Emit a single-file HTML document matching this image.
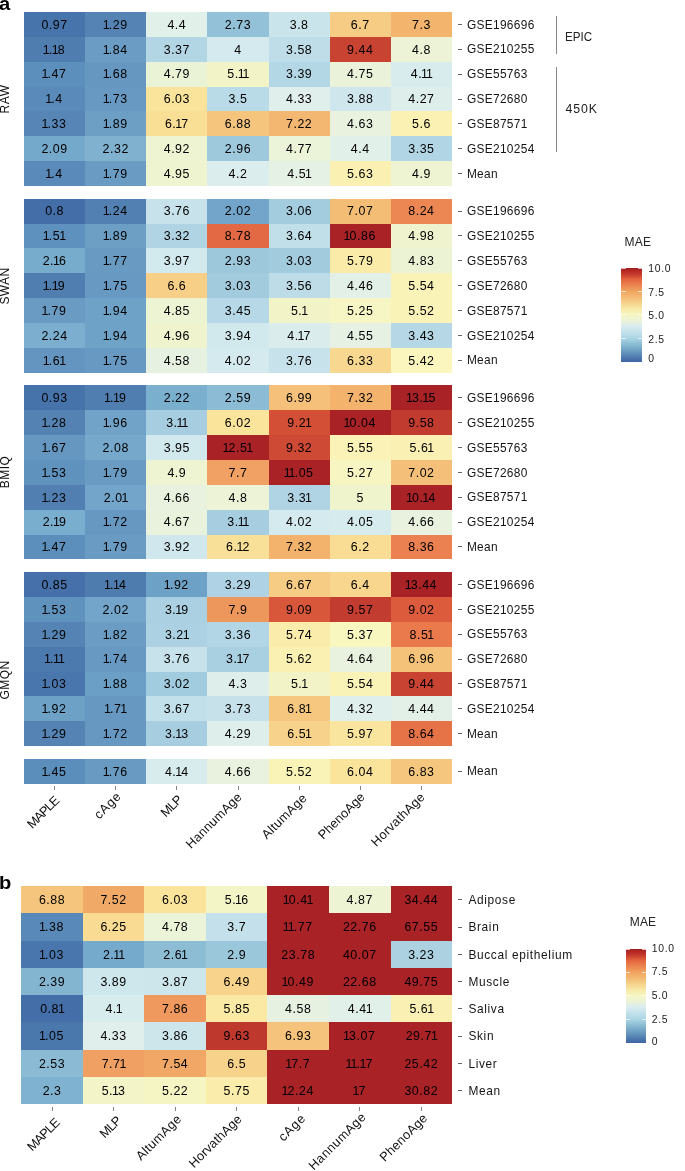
<!DOCTYPE html>
<html><head><meta charset="utf-8"><title>MAE heatmaps</title>
<style>
html,body{margin:0;padding:0;background:#fff;}
#w{position:absolute;left:0;top:0;width:685px;height:1171px;will-change:transform;opacity:0.999;}
body{width:685px;height:1171px;position:relative;overflow:hidden;font-family:"Liberation Sans",sans-serif;color:#1a1a1a;}
.c{position:absolute;}
.ct i{font-style:normal;margin-left:-1.1px;margin-right:-1.4px;}
.ct{position:absolute;font-size:12.4px;line-height:14px;letter-spacing:0.55px;text-align:center;color:#000;white-space:nowrap;}
.tk{position:absolute;width:4px;height:1px;background:#666;}
.vt{position:absolute;width:1px;height:4px;background:#858585;}
.yl{position:absolute;line-height:14px;font-size:11.9px;letter-spacing:0.32px;white-space:nowrap;color:#151515;}
.gl{position:absolute;width:100px;height:14px;line-height:14px;font-size:12px;letter-spacing:0.4px;text-align:center;transform:rotate(-90deg);white-space:nowrap;color:#111;}
.xl{position:absolute;font-size:12.8px;line-height:13px;letter-spacing:0.3px;white-space:nowrap;transform-origin:100% 0;transform:rotate(-45deg);color:#111;}
.yb{letter-spacing:0.66px;}
.br{position:absolute;width:1px;background:#888;}
.gt{position:absolute;font-size:12.3px;line-height:16px;white-space:nowrap;color:#222;}
.lt{position:absolute;font-size:12px;line-height:16px;letter-spacing:0.2px;color:#222;}
.cb{position:absolute;}
.wt{position:absolute;height:1px;background:rgba(255,255,255,0.7);}
.ll{position:absolute;font-size:10.4px;line-height:16px;letter-spacing:0.7px;color:#222;white-space:nowrap;}
.pl{position:absolute;font-weight:bold;font-size:18px;line-height:20px;color:#000;transform-origin:0 0;transform:scaleX(1.12);}
</style></head><body>
<div id="w">
<div class="pl" style="left:-1px;top:-6px">a</div>
<div class="pl" style="left:-1.5px;top:873px">b</div>
<div class="c" style="left:24px;top:12px;width:61.163px;height:24.877px;background:#4775ab"></div>
<div class="c" style="left:85.143px;top:12px;width:61.163px;height:24.877px;background:#5483b4"></div>
<div class="c" style="left:146.286px;top:12px;width:61.163px;height:24.877px;background:#e2f0ea"></div>
<div class="c" style="left:207.429px;top:12px;width:61.163px;height:24.877px;background:#93c1d8"></div>
<div class="c" style="left:268.571px;top:12px;width:61.163px;height:24.877px;background:#c9e4eb"></div>
<div class="c" style="left:329.714px;top:12px;width:61.163px;height:24.877px;background:#f6cb83"></div>
<div class="c" style="left:390.857px;top:12px;width:61.163px;height:24.877px;background:#f3b46e"></div>
<div class="c" style="left:24px;top:36.857px;width:61.163px;height:24.877px;background:#4f7db0"></div>
<div class="c" style="left:85.143px;top:36.857px;width:61.163px;height:24.877px;background:#6b9dc4"></div>
<div class="c" style="left:146.286px;top:36.857px;width:61.163px;height:24.877px;background:#b3d6e5"></div>
<div class="c" style="left:207.429px;top:36.857px;width:61.163px;height:24.877px;background:#d4eaee"></div>
<div class="c" style="left:268.571px;top:36.857px;width:61.163px;height:24.877px;background:#bedde8"></div>
<div class="c" style="left:329.714px;top:36.857px;width:61.163px;height:24.877px;background:#c94332"></div>
<div class="c" style="left:390.857px;top:36.857px;width:61.163px;height:24.877px;background:#ecf3d7"></div>
<div class="c" style="left:24px;top:61.714px;width:61.163px;height:24.877px;background:#5d8fbd"></div>
<div class="c" style="left:85.143px;top:61.714px;width:61.163px;height:24.877px;background:#6597c1"></div>
<div class="c" style="left:146.286px;top:61.714px;width:61.163px;height:24.877px;background:#ebf3d7"></div>
<div class="c" style="left:207.429px;top:61.714px;width:61.163px;height:24.877px;background:#f2f4c8"></div>
<div class="c" style="left:268.571px;top:61.714px;width:61.163px;height:24.877px;background:#b4d7e6"></div>
<div class="c" style="left:329.714px;top:61.714px;width:61.163px;height:24.877px;background:#eaf3d9"></div>
<div class="c" style="left:390.857px;top:61.714px;width:61.163px;height:24.877px;background:#d8eced"></div>
<div class="c" style="left:24px;top:86.571px;width:61.163px;height:24.877px;background:#5a8ab9"></div>
<div class="c" style="left:85.143px;top:86.571px;width:61.163px;height:24.877px;background:#6799c2"></div>
<div class="c" style="left:146.286px;top:86.571px;width:61.163px;height:24.877px;background:#fae39b"></div>
<div class="c" style="left:207.429px;top:86.571px;width:61.163px;height:24.877px;background:#b9dae7"></div>
<div class="c" style="left:268.571px;top:86.571px;width:61.163px;height:24.877px;background:#e0efeb"></div>
<div class="c" style="left:329.714px;top:86.571px;width:61.163px;height:24.877px;background:#cee6ec"></div>
<div class="c" style="left:390.857px;top:86.571px;width:61.163px;height:24.877px;background:#ddeeeb"></div>
<div class="c" style="left:24px;top:111.429px;width:61.163px;height:24.877px;background:#5685b6"></div>
<div class="c" style="left:85.143px;top:111.429px;width:61.163px;height:24.877px;background:#6d9fc5"></div>
<div class="c" style="left:146.286px;top:111.429px;width:61.163px;height:24.877px;background:#f9de96"></div>
<div class="c" style="left:207.429px;top:111.429px;width:61.163px;height:24.877px;background:#f5c57d"></div>
<div class="c" style="left:268.571px;top:111.429px;width:61.163px;height:24.877px;background:#f3b771"></div>
<div class="c" style="left:329.714px;top:111.429px;width:61.163px;height:24.877px;background:#e8f2df"></div>
<div class="c" style="left:390.857px;top:111.429px;width:61.163px;height:24.877px;background:#faf1b3"></div>
<div class="c" style="left:24px;top:136.286px;width:61.163px;height:24.877px;background:#75a9cb"></div>
<div class="c" style="left:85.143px;top:136.286px;width:61.163px;height:24.877px;background:#80b2d0"></div>
<div class="c" style="left:146.286px;top:136.286px;width:61.163px;height:24.877px;background:#eef4d1"></div>
<div class="c" style="left:207.429px;top:136.286px;width:61.163px;height:24.877px;background:#9ec9dd"></div>
<div class="c" style="left:268.571px;top:136.286px;width:61.163px;height:24.877px;background:#ebf3d8"></div>
<div class="c" style="left:329.714px;top:136.286px;width:61.163px;height:24.877px;background:#e2f0ea"></div>
<div class="c" style="left:390.857px;top:136.286px;width:61.163px;height:24.877px;background:#b2d5e5"></div>
<div class="c" style="left:24px;top:161.143px;width:61.163px;height:24.877px;background:#5a8ab9"></div>
<div class="c" style="left:85.143px;top:161.143px;width:61.163px;height:24.877px;background:#699bc3"></div>
<div class="c" style="left:146.286px;top:161.143px;width:61.163px;height:24.877px;background:#eff4d0"></div>
<div class="c" style="left:207.429px;top:161.143px;width:61.163px;height:24.877px;background:#dbedec"></div>
<div class="c" style="left:268.571px;top:161.143px;width:61.163px;height:24.877px;background:#e5f1e5"></div>
<div class="c" style="left:329.714px;top:161.143px;width:61.163px;height:24.877px;background:#faf0b2"></div>
<div class="c" style="left:390.857px;top:161.143px;width:61.163px;height:24.877px;background:#eef4d2"></div>
<div class="ct" style="left:24px;top:18px;width:61.143px">0.97</div>
<div class="ct" style="left:85.143px;top:18px;width:61.143px"><i>1</i>.29</div>
<div class="ct" style="left:146.286px;top:18px;width:61.143px">4.4</div>
<div class="ct" style="left:207.429px;top:18px;width:61.143px">2.73</div>
<div class="ct" style="left:268.571px;top:18px;width:61.143px">3.8</div>
<div class="ct" style="left:329.714px;top:18px;width:61.143px">6.7</div>
<div class="ct" style="left:390.857px;top:18px;width:61.143px">7.3</div>
<div class="ct" style="left:24px;top:43px;width:61.143px"><i>1</i>.<i>1</i>8</div>
<div class="ct" style="left:85.143px;top:43px;width:61.143px"><i>1</i>.84</div>
<div class="ct" style="left:146.286px;top:43px;width:61.143px">3.37</div>
<div class="ct" style="left:207.429px;top:43px;width:61.143px">4</div>
<div class="ct" style="left:268.571px;top:43px;width:61.143px">3.58</div>
<div class="ct" style="left:329.714px;top:43px;width:61.143px">9.44</div>
<div class="ct" style="left:390.857px;top:43px;width:61.143px">4.8</div>
<div class="ct" style="left:24px;top:67px;width:61.143px"><i>1</i>.47</div>
<div class="ct" style="left:85.143px;top:67px;width:61.143px"><i>1</i>.68</div>
<div class="ct" style="left:146.286px;top:67px;width:61.143px">4.79</div>
<div class="ct" style="left:207.429px;top:67px;width:61.143px">5.<i>1</i><i>1</i></div>
<div class="ct" style="left:268.571px;top:67px;width:61.143px">3.39</div>
<div class="ct" style="left:329.714px;top:67px;width:61.143px">4.75</div>
<div class="ct" style="left:390.857px;top:67px;width:61.143px">4.<i>1</i><i>1</i></div>
<div class="ct" style="left:24px;top:92px;width:61.143px"><i>1</i>.4</div>
<div class="ct" style="left:85.143px;top:92px;width:61.143px"><i>1</i>.73</div>
<div class="ct" style="left:146.286px;top:92px;width:61.143px">6.03</div>
<div class="ct" style="left:207.429px;top:92px;width:61.143px">3.5</div>
<div class="ct" style="left:268.571px;top:92px;width:61.143px">4.33</div>
<div class="ct" style="left:329.714px;top:92px;width:61.143px">3.88</div>
<div class="ct" style="left:390.857px;top:92px;width:61.143px">4.27</div>
<div class="ct" style="left:24px;top:117px;width:61.143px"><i>1</i>.33</div>
<div class="ct" style="left:85.143px;top:117px;width:61.143px"><i>1</i>.89</div>
<div class="ct" style="left:146.286px;top:117px;width:61.143px">6.<i>1</i>7</div>
<div class="ct" style="left:207.429px;top:117px;width:61.143px">6.88</div>
<div class="ct" style="left:268.571px;top:117px;width:61.143px">7.22</div>
<div class="ct" style="left:329.714px;top:117px;width:61.143px">4.63</div>
<div class="ct" style="left:390.857px;top:117px;width:61.143px">5.6</div>
<div class="ct" style="left:24px;top:142px;width:61.143px">2.09</div>
<div class="ct" style="left:85.143px;top:142px;width:61.143px">2.32</div>
<div class="ct" style="left:146.286px;top:142px;width:61.143px">4.92</div>
<div class="ct" style="left:207.429px;top:142px;width:61.143px">2.96</div>
<div class="ct" style="left:268.571px;top:142px;width:61.143px">4.77</div>
<div class="ct" style="left:329.714px;top:142px;width:61.143px">4.4</div>
<div class="ct" style="left:390.857px;top:142px;width:61.143px">3.35</div>
<div class="ct" style="left:24px;top:167px;width:61.143px"><i>1</i>.4</div>
<div class="ct" style="left:85.143px;top:167px;width:61.143px"><i>1</i>.79</div>
<div class="ct" style="left:146.286px;top:167px;width:61.143px">4.95</div>
<div class="ct" style="left:207.429px;top:167px;width:61.143px">4.2</div>
<div class="ct" style="left:268.571px;top:167px;width:61.143px">4.5<i>1</i></div>
<div class="ct" style="left:329.714px;top:167px;width:61.143px">5.63</div>
<div class="ct" style="left:390.857px;top:167px;width:61.143px">4.9</div>
<div class="tk" style="left:458.2px;top:23.929px"></div>
<div class="yl" style="left:466.9px;top:18px">GSE196696</div>
<div class="tk" style="left:458.2px;top:48.786px"></div>
<div class="yl" style="left:466.9px;top:42px">GSE210255</div>
<div class="tk" style="left:458.2px;top:73.643px"></div>
<div class="yl" style="left:466.9px;top:67px">GSE55763</div>
<div class="tk" style="left:458.2px;top:98.5px"></div>
<div class="yl" style="left:466.9px;top:92px">GSE72680</div>
<div class="tk" style="left:458.2px;top:123.357px"></div>
<div class="yl" style="left:466.9px;top:117px">GSE87571</div>
<div class="tk" style="left:458.2px;top:148.214px"></div>
<div class="yl" style="left:466.9px;top:142px">GSE210254</div>
<div class="tk" style="left:458.2px;top:173.071px"></div>
<div class="yl" style="left:466.9px;top:167px">Mean</div>
<div class="gl" style="left:-45.4px;top:92px">RAW</div>
<div class="c" style="left:24px;top:198.7px;width:61.163px;height:24.877px;background:#446ea8"></div>
<div class="c" style="left:85.143px;top:198.7px;width:61.163px;height:24.877px;background:#5280b2"></div>
<div class="c" style="left:146.286px;top:198.7px;width:61.163px;height:24.877px;background:#c7e2eb"></div>
<div class="c" style="left:207.429px;top:198.7px;width:61.163px;height:24.877px;background:#72a5c9"></div>
<div class="c" style="left:268.571px;top:198.7px;width:61.163px;height:24.877px;background:#a3ccdf"></div>
<div class="c" style="left:329.714px;top:198.7px;width:61.163px;height:24.877px;background:#f4bd76"></div>
<div class="c" style="left:390.857px;top:198.7px;width:61.163px;height:24.877px;background:#ec8753"></div>
<div class="c" style="left:24px;top:223.557px;width:61.163px;height:24.877px;background:#5f91be"></div>
<div class="c" style="left:85.143px;top:223.557px;width:61.163px;height:24.877px;background:#6d9fc5"></div>
<div class="c" style="left:146.286px;top:223.557px;width:61.163px;height:24.877px;background:#b0d4e4"></div>
<div class="c" style="left:207.429px;top:223.557px;width:61.163px;height:24.877px;background:#e26943"></div>
<div class="c" style="left:268.571px;top:223.557px;width:61.163px;height:24.877px;background:#c1dfe9"></div>
<div class="c" style="left:329.714px;top:223.557px;width:61.163px;height:24.877px;background:#a82226"></div>
<div class="c" style="left:390.857px;top:223.557px;width:61.163px;height:24.877px;background:#f0f4ce"></div>
<div class="c" style="left:24px;top:248.414px;width:61.163px;height:24.877px;background:#78accd"></div>
<div class="c" style="left:85.143px;top:248.414px;width:61.163px;height:24.877px;background:#689ac2"></div>
<div class="c" style="left:146.286px;top:248.414px;width:61.163px;height:24.877px;background:#d2e9ee"></div>
<div class="c" style="left:207.429px;top:248.414px;width:61.163px;height:24.877px;background:#9dc8dc"></div>
<div class="c" style="left:268.571px;top:248.414px;width:61.163px;height:24.877px;background:#a2cbde"></div>
<div class="c" style="left:329.714px;top:248.414px;width:61.163px;height:24.877px;background:#faeba8"></div>
<div class="c" style="left:390.857px;top:248.414px;width:61.163px;height:24.877px;background:#ecf3d5"></div>
<div class="c" style="left:24px;top:273.271px;width:61.163px;height:24.877px;background:#507eb1"></div>
<div class="c" style="left:85.143px;top:273.271px;width:61.163px;height:24.877px;background:#6799c2"></div>
<div class="c" style="left:146.286px;top:273.271px;width:61.163px;height:24.877px;background:#f7cf87"></div>
<div class="c" style="left:207.429px;top:273.271px;width:61.163px;height:24.877px;background:#a2cbde"></div>
<div class="c" style="left:268.571px;top:273.271px;width:61.163px;height:24.877px;background:#bddce8"></div>
<div class="c" style="left:329.714px;top:273.271px;width:61.163px;height:24.877px;background:#e3f0e7"></div>
<div class="c" style="left:390.857px;top:273.271px;width:61.163px;height:24.877px;background:#faf3b7"></div>
<div class="c" style="left:24px;top:298.129px;width:61.163px;height:24.877px;background:#699bc3"></div>
<div class="c" style="left:85.143px;top:298.129px;width:61.163px;height:24.877px;background:#6fa2c7"></div>
<div class="c" style="left:146.286px;top:298.129px;width:61.163px;height:24.877px;background:#edf4d4"></div>
<div class="c" style="left:207.429px;top:298.129px;width:61.163px;height:24.877px;background:#b7d9e7"></div>
<div class="c" style="left:268.571px;top:298.129px;width:61.163px;height:24.877px;background:#f2f4c8"></div>
<div class="c" style="left:329.714px;top:298.129px;width:61.163px;height:24.877px;background:#f6f6c4"></div>
<div class="c" style="left:390.857px;top:298.129px;width:61.163px;height:24.877px;background:#faf3b8"></div>
<div class="c" style="left:24px;top:322.986px;width:61.163px;height:24.877px;background:#7cafcf"></div>
<div class="c" style="left:85.143px;top:322.986px;width:61.163px;height:24.877px;background:#6fa2c7"></div>
<div class="c" style="left:146.286px;top:322.986px;width:61.163px;height:24.877px;background:#eff4cf"></div>
<div class="c" style="left:207.429px;top:322.986px;width:61.163px;height:24.877px;background:#d1e8ed"></div>
<div class="c" style="left:268.571px;top:322.986px;width:61.163px;height:24.877px;background:#daedec"></div>
<div class="c" style="left:329.714px;top:322.986px;width:61.163px;height:24.877px;background:#e6f1e3"></div>
<div class="c" style="left:390.857px;top:322.986px;width:61.163px;height:24.877px;background:#b6d8e6"></div>
<div class="c" style="left:24px;top:347.843px;width:61.163px;height:24.877px;background:#6395c0"></div>
<div class="c" style="left:85.143px;top:347.843px;width:61.163px;height:24.877px;background:#6799c2"></div>
<div class="c" style="left:146.286px;top:347.843px;width:61.163px;height:24.877px;background:#e6f1e1"></div>
<div class="c" style="left:207.429px;top:347.843px;width:61.163px;height:24.877px;background:#d5eaee"></div>
<div class="c" style="left:268.571px;top:347.843px;width:61.163px;height:24.877px;background:#c7e2eb"></div>
<div class="c" style="left:329.714px;top:347.843px;width:61.163px;height:24.877px;background:#f8d890"></div>
<div class="c" style="left:390.857px;top:347.843px;width:61.163px;height:24.877px;background:#faf6be"></div>
<div class="ct" style="left:24px;top:204px;width:61.143px">0.8</div>
<div class="ct" style="left:85.143px;top:204px;width:61.143px"><i>1</i>.24</div>
<div class="ct" style="left:146.286px;top:204px;width:61.143px">3.76</div>
<div class="ct" style="left:207.429px;top:204px;width:61.143px">2.02</div>
<div class="ct" style="left:268.571px;top:204px;width:61.143px">3.06</div>
<div class="ct" style="left:329.714px;top:204px;width:61.143px">7.07</div>
<div class="ct" style="left:390.857px;top:204px;width:61.143px">8.24</div>
<div class="ct" style="left:24px;top:229px;width:61.143px"><i>1</i>.5<i>1</i></div>
<div class="ct" style="left:85.143px;top:229px;width:61.143px"><i>1</i>.89</div>
<div class="ct" style="left:146.286px;top:229px;width:61.143px">3.32</div>
<div class="ct" style="left:207.429px;top:229px;width:61.143px">8.78</div>
<div class="ct" style="left:268.571px;top:229px;width:61.143px">3.64</div>
<div class="ct" style="left:329.714px;top:229px;width:61.143px"><i>1</i>0.86</div>
<div class="ct" style="left:390.857px;top:229px;width:61.143px">4.98</div>
<div class="ct" style="left:24px;top:254px;width:61.143px">2.<i>1</i>6</div>
<div class="ct" style="left:85.143px;top:254px;width:61.143px"><i>1</i>.77</div>
<div class="ct" style="left:146.286px;top:254px;width:61.143px">3.97</div>
<div class="ct" style="left:207.429px;top:254px;width:61.143px">2.93</div>
<div class="ct" style="left:268.571px;top:254px;width:61.143px">3.03</div>
<div class="ct" style="left:329.714px;top:254px;width:61.143px">5.79</div>
<div class="ct" style="left:390.857px;top:254px;width:61.143px">4.83</div>
<div class="ct" style="left:24px;top:279px;width:61.143px"><i>1</i>.<i>1</i>9</div>
<div class="ct" style="left:85.143px;top:279px;width:61.143px"><i>1</i>.75</div>
<div class="ct" style="left:146.286px;top:279px;width:61.143px">6.6</div>
<div class="ct" style="left:207.429px;top:279px;width:61.143px">3.03</div>
<div class="ct" style="left:268.571px;top:279px;width:61.143px">3.56</div>
<div class="ct" style="left:329.714px;top:279px;width:61.143px">4.46</div>
<div class="ct" style="left:390.857px;top:279px;width:61.143px">5.54</div>
<div class="ct" style="left:24px;top:304px;width:61.143px"><i>1</i>.79</div>
<div class="ct" style="left:85.143px;top:304px;width:61.143px"><i>1</i>.94</div>
<div class="ct" style="left:146.286px;top:304px;width:61.143px">4.85</div>
<div class="ct" style="left:207.429px;top:304px;width:61.143px">3.45</div>
<div class="ct" style="left:268.571px;top:304px;width:61.143px">5.<i>1</i></div>
<div class="ct" style="left:329.714px;top:304px;width:61.143px">5.25</div>
<div class="ct" style="left:390.857px;top:304px;width:61.143px">5.52</div>
<div class="ct" style="left:24px;top:329px;width:61.143px">2.24</div>
<div class="ct" style="left:85.143px;top:329px;width:61.143px"><i>1</i>.94</div>
<div class="ct" style="left:146.286px;top:329px;width:61.143px">4.96</div>
<div class="ct" style="left:207.429px;top:329px;width:61.143px">3.94</div>
<div class="ct" style="left:268.571px;top:329px;width:61.143px">4.<i>1</i>7</div>
<div class="ct" style="left:329.714px;top:329px;width:61.143px">4.55</div>
<div class="ct" style="left:390.857px;top:329px;width:61.143px">3.43</div>
<div class="ct" style="left:24px;top:354px;width:61.143px"><i>1</i>.6<i>1</i></div>
<div class="ct" style="left:85.143px;top:354px;width:61.143px"><i>1</i>.75</div>
<div class="ct" style="left:146.286px;top:354px;width:61.143px">4.58</div>
<div class="ct" style="left:207.429px;top:354px;width:61.143px">4.02</div>
<div class="ct" style="left:268.571px;top:354px;width:61.143px">3.76</div>
<div class="ct" style="left:329.714px;top:354px;width:61.143px">6.33</div>
<div class="ct" style="left:390.857px;top:354px;width:61.143px">5.42</div>
<div class="tk" style="left:458.2px;top:210.629px"></div>
<div class="yl" style="left:466.9px;top:204px">GSE196696</div>
<div class="tk" style="left:458.2px;top:235.486px"></div>
<div class="yl" style="left:466.9px;top:229px">GSE210255</div>
<div class="tk" style="left:458.2px;top:260.343px"></div>
<div class="yl" style="left:466.9px;top:254px">GSE55763</div>
<div class="tk" style="left:458.2px;top:285.2px"></div>
<div class="yl" style="left:466.9px;top:279px">GSE72680</div>
<div class="tk" style="left:458.2px;top:310.057px"></div>
<div class="yl" style="left:466.9px;top:304px">GSE87571</div>
<div class="tk" style="left:458.2px;top:334.914px"></div>
<div class="yl" style="left:466.9px;top:329px">GSE210254</div>
<div class="tk" style="left:458.2px;top:359.771px"></div>
<div class="yl" style="left:466.9px;top:353px">Mean</div>
<div class="gl" style="left:-45.4px;top:278.7px">SWAN</div>
<div class="c" style="left:24px;top:385.4px;width:61.163px;height:24.877px;background:#4773ab"></div>
<div class="c" style="left:85.143px;top:385.4px;width:61.163px;height:24.877px;background:#507eb1"></div>
<div class="c" style="left:146.286px;top:385.4px;width:61.163px;height:24.877px;background:#7bafce"></div>
<div class="c" style="left:207.429px;top:385.4px;width:61.163px;height:24.877px;background:#8cbcd5"></div>
<div class="c" style="left:268.571px;top:385.4px;width:61.163px;height:24.877px;background:#f5c079"></div>
<div class="c" style="left:329.714px;top:385.4px;width:61.163px;height:24.877px;background:#f3b36d"></div>
<div class="c" style="left:390.857px;top:385.4px;width:61.163px;height:24.877px;background:#a82226"></div>
<div class="c" style="left:24px;top:410.257px;width:61.163px;height:24.877px;background:#5482b3"></div>
<div class="c" style="left:85.143px;top:410.257px;width:61.163px;height:24.877px;background:#70a3c7"></div>
<div class="c" style="left:146.286px;top:410.257px;width:61.163px;height:24.877px;background:#a6cee0"></div>
<div class="c" style="left:207.429px;top:410.257px;width:61.163px;height:24.877px;background:#fae39b"></div>
<div class="c" style="left:268.571px;top:410.257px;width:61.163px;height:24.877px;background:#d35037"></div>
<div class="c" style="left:329.714px;top:410.257px;width:61.163px;height:24.877px;background:#a82226"></div>
<div class="c" style="left:390.857px;top:410.257px;width:61.163px;height:24.877px;background:#c13b2f"></div>
<div class="c" style="left:24px;top:435.114px;width:61.163px;height:24.877px;background:#6597c1"></div>
<div class="c" style="left:85.143px;top:435.114px;width:61.163px;height:24.877px;background:#75a8cb"></div>
<div class="c" style="left:146.286px;top:435.114px;width:61.163px;height:24.877px;background:#d1e8ed"></div>
<div class="c" style="left:207.429px;top:435.114px;width:61.163px;height:24.877px;background:#a82226"></div>
<div class="c" style="left:268.571px;top:435.114px;width:61.163px;height:24.877px;background:#ce4a35"></div>
<div class="c" style="left:329.714px;top:435.114px;width:61.163px;height:24.877px;background:#faf2b6"></div>
<div class="c" style="left:390.857px;top:435.114px;width:61.163px;height:24.877px;background:#faf0b3"></div>
<div class="c" style="left:24px;top:459.971px;width:61.163px;height:24.877px;background:#6092be"></div>
<div class="c" style="left:85.143px;top:459.971px;width:61.163px;height:24.877px;background:#699bc3"></div>
<div class="c" style="left:146.286px;top:459.971px;width:61.163px;height:24.877px;background:#eef4d2"></div>
<div class="c" style="left:207.429px;top:459.971px;width:61.163px;height:24.877px;background:#f0a163"></div>
<div class="c" style="left:268.571px;top:459.971px;width:61.163px;height:24.877px;background:#a82226"></div>
<div class="c" style="left:329.714px;top:459.971px;width:61.163px;height:24.877px;background:#f7f6c3"></div>
<div class="c" style="left:390.857px;top:459.971px;width:61.163px;height:24.877px;background:#f4bf78"></div>
<div class="c" style="left:24px;top:484.829px;width:61.163px;height:24.877px;background:#517fb2"></div>
<div class="c" style="left:85.143px;top:484.829px;width:61.163px;height:24.877px;background:#72a5c9"></div>
<div class="c" style="left:146.286px;top:484.829px;width:61.163px;height:24.877px;background:#e8f2de"></div>
<div class="c" style="left:207.429px;top:484.829px;width:61.163px;height:24.877px;background:#ecf3d7"></div>
<div class="c" style="left:268.571px;top:484.829px;width:61.163px;height:24.877px;background:#b0d4e4"></div>
<div class="c" style="left:329.714px;top:484.829px;width:61.163px;height:24.877px;background:#f0f4cd"></div>
<div class="c" style="left:390.857px;top:484.829px;width:61.163px;height:24.877px;background:#a82226"></div>
<div class="c" style="left:24px;top:509.686px;width:61.163px;height:24.877px;background:#7aaece"></div>
<div class="c" style="left:85.143px;top:509.686px;width:61.163px;height:24.877px;background:#6698c2"></div>
<div class="c" style="left:146.286px;top:509.686px;width:61.163px;height:24.877px;background:#e8f2dd"></div>
<div class="c" style="left:207.429px;top:509.686px;width:61.163px;height:24.877px;background:#a6cee0"></div>
<div class="c" style="left:268.571px;top:509.686px;width:61.163px;height:24.877px;background:#d5eaee"></div>
<div class="c" style="left:329.714px;top:509.686px;width:61.163px;height:24.877px;background:#d6ebee"></div>
<div class="c" style="left:390.857px;top:509.686px;width:61.163px;height:24.877px;background:#e8f2de"></div>
<div class="c" style="left:24px;top:534.543px;width:61.163px;height:24.877px;background:#5d8fbd"></div>
<div class="c" style="left:85.143px;top:534.543px;width:61.163px;height:24.877px;background:#699bc3"></div>
<div class="c" style="left:146.286px;top:534.543px;width:61.163px;height:24.877px;background:#d0e7ed"></div>
<div class="c" style="left:207.429px;top:534.543px;width:61.163px;height:24.877px;background:#f9e098"></div>
<div class="c" style="left:268.571px;top:534.543px;width:61.163px;height:24.877px;background:#f3b36d"></div>
<div class="c" style="left:329.714px;top:534.543px;width:61.163px;height:24.877px;background:#f9dd95"></div>
<div class="c" style="left:390.857px;top:534.543px;width:61.163px;height:24.877px;background:#eb8150"></div>
<div class="ct" style="left:24px;top:391px;width:61.143px">0.93</div>
<div class="ct" style="left:85.143px;top:391px;width:61.143px"><i>1</i>.<i>1</i>9</div>
<div class="ct" style="left:146.286px;top:391px;width:61.143px">2.22</div>
<div class="ct" style="left:207.429px;top:391px;width:61.143px">2.59</div>
<div class="ct" style="left:268.571px;top:391px;width:61.143px">6.99</div>
<div class="ct" style="left:329.714px;top:391px;width:61.143px">7.32</div>
<div class="ct" style="left:390.857px;top:391px;width:61.143px"><i>1</i>3.<i>1</i>5</div>
<div class="ct" style="left:24px;top:416px;width:61.143px"><i>1</i>.28</div>
<div class="ct" style="left:85.143px;top:416px;width:61.143px"><i>1</i>.96</div>
<div class="ct" style="left:146.286px;top:416px;width:61.143px">3.<i>1</i><i>1</i></div>
<div class="ct" style="left:207.429px;top:416px;width:61.143px">6.02</div>
<div class="ct" style="left:268.571px;top:416px;width:61.143px">9.2<i>1</i></div>
<div class="ct" style="left:329.714px;top:416px;width:61.143px"><i>1</i>0.04</div>
<div class="ct" style="left:390.857px;top:416px;width:61.143px">9.58</div>
<div class="ct" style="left:24px;top:441px;width:61.143px"><i>1</i>.67</div>
<div class="ct" style="left:85.143px;top:441px;width:61.143px">2.08</div>
<div class="ct" style="left:146.286px;top:441px;width:61.143px">3.95</div>
<div class="ct" style="left:207.429px;top:441px;width:61.143px"><i>1</i>2.5<i>1</i></div>
<div class="ct" style="left:268.571px;top:441px;width:61.143px">9.32</div>
<div class="ct" style="left:329.714px;top:441px;width:61.143px">5.55</div>
<div class="ct" style="left:390.857px;top:441px;width:61.143px">5.6<i>1</i></div>
<div class="ct" style="left:24px;top:466px;width:61.143px"><i>1</i>.53</div>
<div class="ct" style="left:85.143px;top:466px;width:61.143px"><i>1</i>.79</div>
<div class="ct" style="left:146.286px;top:466px;width:61.143px">4.9</div>
<div class="ct" style="left:207.429px;top:466px;width:61.143px">7.7</div>
<div class="ct" style="left:268.571px;top:466px;width:61.143px"><i>1</i><i>1</i>.05</div>
<div class="ct" style="left:329.714px;top:466px;width:61.143px">5.27</div>
<div class="ct" style="left:390.857px;top:466px;width:61.143px">7.02</div>
<div class="ct" style="left:24px;top:491px;width:61.143px"><i>1</i>.23</div>
<div class="ct" style="left:85.143px;top:491px;width:61.143px">2.0<i>1</i></div>
<div class="ct" style="left:146.286px;top:491px;width:61.143px">4.66</div>
<div class="ct" style="left:207.429px;top:491px;width:61.143px">4.8</div>
<div class="ct" style="left:268.571px;top:491px;width:61.143px">3.3<i>1</i></div>
<div class="ct" style="left:329.714px;top:491px;width:61.143px">5</div>
<div class="ct" style="left:390.857px;top:491px;width:61.143px"><i>1</i>0.<i>1</i>4</div>
<div class="ct" style="left:24px;top:515px;width:61.143px">2.<i>1</i>9</div>
<div class="ct" style="left:85.143px;top:515px;width:61.143px"><i>1</i>.72</div>
<div class="ct" style="left:146.286px;top:515px;width:61.143px">4.67</div>
<div class="ct" style="left:207.429px;top:515px;width:61.143px">3.<i>1</i><i>1</i></div>
<div class="ct" style="left:268.571px;top:515px;width:61.143px">4.02</div>
<div class="ct" style="left:329.714px;top:515px;width:61.143px">4.05</div>
<div class="ct" style="left:390.857px;top:515px;width:61.143px">4.66</div>
<div class="ct" style="left:24px;top:540px;width:61.143px"><i>1</i>.47</div>
<div class="ct" style="left:85.143px;top:540px;width:61.143px"><i>1</i>.79</div>
<div class="ct" style="left:146.286px;top:540px;width:61.143px">3.92</div>
<div class="ct" style="left:207.429px;top:540px;width:61.143px">6.<i>1</i>2</div>
<div class="ct" style="left:268.571px;top:540px;width:61.143px">7.32</div>
<div class="ct" style="left:329.714px;top:540px;width:61.143px">6.2</div>
<div class="ct" style="left:390.857px;top:540px;width:61.143px">8.36</div>
<div class="tk" style="left:458.2px;top:397.329px"></div>
<div class="yl" style="left:466.9px;top:391px">GSE196696</div>
<div class="tk" style="left:458.2px;top:422.186px"></div>
<div class="yl" style="left:466.9px;top:416px">GSE210255</div>
<div class="tk" style="left:458.2px;top:447.043px"></div>
<div class="yl" style="left:466.9px;top:441px">GSE55763</div>
<div class="tk" style="left:458.2px;top:471.9px"></div>
<div class="yl" style="left:466.9px;top:466px">GSE72680</div>
<div class="tk" style="left:458.2px;top:496.757px"></div>
<div class="yl" style="left:466.9px;top:490px">GSE87571</div>
<div class="tk" style="left:458.2px;top:521.614px"></div>
<div class="yl" style="left:466.9px;top:515px">GSE210254</div>
<div class="tk" style="left:458.2px;top:546.471px"></div>
<div class="yl" style="left:466.9px;top:540px">Mean</div>
<div class="gl" style="left:-45.4px;top:465.4px">BMIQ</div>
<div class="c" style="left:24px;top:572.1px;width:61.163px;height:24.877px;background:#4570a9"></div>
<div class="c" style="left:85.143px;top:572.1px;width:61.163px;height:24.877px;background:#4e7caf"></div>
<div class="c" style="left:146.286px;top:572.1px;width:61.163px;height:24.877px;background:#6ea1c6"></div>
<div class="c" style="left:207.429px;top:572.1px;width:61.163px;height:24.877px;background:#afd3e4"></div>
<div class="c" style="left:268.571px;top:572.1px;width:61.163px;height:24.877px;background:#f6cc84"></div>
<div class="c" style="left:329.714px;top:572.1px;width:61.163px;height:24.877px;background:#f8d68e"></div>
<div class="c" style="left:390.857px;top:572.1px;width:61.163px;height:24.877px;background:#a82226"></div>
<div class="c" style="left:24px;top:596.957px;width:61.163px;height:24.877px;background:#6092be"></div>
<div class="c" style="left:85.143px;top:596.957px;width:61.163px;height:24.877px;background:#72a5c9"></div>
<div class="c" style="left:146.286px;top:596.957px;width:61.163px;height:24.877px;background:#aad0e1"></div>
<div class="c" style="left:207.429px;top:596.957px;width:61.163px;height:24.877px;background:#ee975d"></div>
<div class="c" style="left:268.571px;top:596.957px;width:61.163px;height:24.877px;background:#d8573a"></div>
<div class="c" style="left:329.714px;top:596.957px;width:61.163px;height:24.877px;background:#c23c2f"></div>
<div class="c" style="left:390.857px;top:596.957px;width:61.163px;height:24.877px;background:#db5b3c"></div>
<div class="c" style="left:24px;top:621.814px;width:61.163px;height:24.877px;background:#5483b4"></div>
<div class="c" style="left:85.143px;top:621.814px;width:61.163px;height:24.877px;background:#6a9cc4"></div>
<div class="c" style="left:146.286px;top:621.814px;width:61.163px;height:24.877px;background:#abd1e2"></div>
<div class="c" style="left:207.429px;top:621.814px;width:61.163px;height:24.877px;background:#b2d6e5"></div>
<div class="c" style="left:268.571px;top:621.814px;width:61.163px;height:24.877px;background:#faecab"></div>
<div class="c" style="left:329.714px;top:621.814px;width:61.163px;height:24.877px;background:#f9f7c0"></div>
<div class="c" style="left:390.857px;top:621.814px;width:61.163px;height:24.877px;background:#ea794c"></div>
<div class="c" style="left:24px;top:646.671px;width:61.163px;height:24.877px;background:#4c7aaf"></div>
<div class="c" style="left:85.143px;top:646.671px;width:61.163px;height:24.877px;background:#6799c2"></div>
<div class="c" style="left:146.286px;top:646.671px;width:61.163px;height:24.877px;background:#c7e2eb"></div>
<div class="c" style="left:207.429px;top:646.671px;width:61.163px;height:24.877px;background:#a9d0e1"></div>
<div class="c" style="left:268.571px;top:646.671px;width:61.163px;height:24.877px;background:#faf0b2"></div>
<div class="c" style="left:329.714px;top:646.671px;width:61.163px;height:24.877px;background:#e8f2de"></div>
<div class="c" style="left:390.857px;top:646.671px;width:61.163px;height:24.877px;background:#f5c27a"></div>
<div class="c" style="left:24px;top:671.529px;width:61.163px;height:24.877px;background:#4977ad"></div>
<div class="c" style="left:85.143px;top:671.529px;width:61.163px;height:24.877px;background:#6c9fc5"></div>
<div class="c" style="left:146.286px;top:671.529px;width:61.163px;height:24.877px;background:#a1cbde"></div>
<div class="c" style="left:207.429px;top:671.529px;width:61.163px;height:24.877px;background:#deeeeb"></div>
<div class="c" style="left:268.571px;top:671.529px;width:61.163px;height:24.877px;background:#f2f4c8"></div>
<div class="c" style="left:329.714px;top:671.529px;width:61.163px;height:24.877px;background:#faf3b7"></div>
<div class="c" style="left:390.857px;top:671.529px;width:61.163px;height:24.877px;background:#c94332"></div>
<div class="c" style="left:24px;top:696.386px;width:61.163px;height:24.877px;background:#6ea1c6"></div>
<div class="c" style="left:85.143px;top:696.386px;width:61.163px;height:24.877px;background:#6698c2"></div>
<div class="c" style="left:146.286px;top:696.386px;width:61.163px;height:24.877px;background:#c2e0ea"></div>
<div class="c" style="left:207.429px;top:696.386px;width:61.163px;height:24.877px;background:#c6e1ea"></div>
<div class="c" style="left:268.571px;top:696.386px;width:61.163px;height:24.877px;background:#f6c77f"></div>
<div class="c" style="left:329.714px;top:696.386px;width:61.163px;height:24.877px;background:#dfefeb"></div>
<div class="c" style="left:390.857px;top:696.386px;width:61.163px;height:24.877px;background:#e3f0e8"></div>
<div class="c" style="left:24px;top:721.243px;width:61.163px;height:24.877px;background:#5483b4"></div>
<div class="c" style="left:85.143px;top:721.243px;width:61.163px;height:24.877px;background:#6698c2"></div>
<div class="c" style="left:146.286px;top:721.243px;width:61.163px;height:24.877px;background:#a7cee0"></div>
<div class="c" style="left:207.429px;top:721.243px;width:61.163px;height:24.877px;background:#deeeeb"></div>
<div class="c" style="left:268.571px;top:721.243px;width:61.163px;height:24.877px;background:#f7d28a"></div>
<div class="c" style="left:329.714px;top:721.243px;width:61.163px;height:24.877px;background:#fae59e"></div>
<div class="c" style="left:390.857px;top:721.243px;width:61.163px;height:24.877px;background:#e67248"></div>
<div class="ct" style="left:24px;top:578px;width:61.143px">0.85</div>
<div class="ct" style="left:85.143px;top:578px;width:61.143px"><i>1</i>.<i>1</i>4</div>
<div class="ct" style="left:146.286px;top:578px;width:61.143px"><i>1</i>.92</div>
<div class="ct" style="left:207.429px;top:578px;width:61.143px">3.29</div>
<div class="ct" style="left:268.571px;top:578px;width:61.143px">6.67</div>
<div class="ct" style="left:329.714px;top:578px;width:61.143px">6.4</div>
<div class="ct" style="left:390.857px;top:578px;width:61.143px"><i>1</i>3.44</div>
<div class="ct" style="left:24px;top:603px;width:61.143px"><i>1</i>.53</div>
<div class="ct" style="left:85.143px;top:603px;width:61.143px">2.02</div>
<div class="ct" style="left:146.286px;top:603px;width:61.143px">3.<i>1</i>9</div>
<div class="ct" style="left:207.429px;top:603px;width:61.143px">7.9</div>
<div class="ct" style="left:268.571px;top:603px;width:61.143px">9.09</div>
<div class="ct" style="left:329.714px;top:603px;width:61.143px">9.57</div>
<div class="ct" style="left:390.857px;top:603px;width:61.143px">9.02</div>
<div class="ct" style="left:24px;top:628px;width:61.143px"><i>1</i>.29</div>
<div class="ct" style="left:85.143px;top:628px;width:61.143px"><i>1</i>.82</div>
<div class="ct" style="left:146.286px;top:628px;width:61.143px">3.2<i>1</i></div>
<div class="ct" style="left:207.429px;top:628px;width:61.143px">3.36</div>
<div class="ct" style="left:268.571px;top:628px;width:61.143px">5.74</div>
<div class="ct" style="left:329.714px;top:628px;width:61.143px">5.37</div>
<div class="ct" style="left:390.857px;top:628px;width:61.143px">8.5<i>1</i></div>
<div class="ct" style="left:24px;top:652px;width:61.143px"><i>1</i>.<i>1</i><i>1</i></div>
<div class="ct" style="left:85.143px;top:652px;width:61.143px"><i>1</i>.74</div>
<div class="ct" style="left:146.286px;top:652px;width:61.143px">3.76</div>
<div class="ct" style="left:207.429px;top:652px;width:61.143px">3.<i>1</i>7</div>
<div class="ct" style="left:268.571px;top:652px;width:61.143px">5.62</div>
<div class="ct" style="left:329.714px;top:652px;width:61.143px">4.64</div>
<div class="ct" style="left:390.857px;top:652px;width:61.143px">6.96</div>
<div class="ct" style="left:24px;top:677px;width:61.143px"><i>1</i>.03</div>
<div class="ct" style="left:85.143px;top:677px;width:61.143px"><i>1</i>.88</div>
<div class="ct" style="left:146.286px;top:677px;width:61.143px">3.02</div>
<div class="ct" style="left:207.429px;top:677px;width:61.143px">4.3</div>
<div class="ct" style="left:268.571px;top:677px;width:61.143px">5.<i>1</i></div>
<div class="ct" style="left:329.714px;top:677px;width:61.143px">5.54</div>
<div class="ct" style="left:390.857px;top:677px;width:61.143px">9.44</div>
<div class="ct" style="left:24px;top:702px;width:61.143px"><i>1</i>.92</div>
<div class="ct" style="left:85.143px;top:702px;width:61.143px"><i>1</i>.7<i>1</i></div>
<div class="ct" style="left:146.286px;top:702px;width:61.143px">3.67</div>
<div class="ct" style="left:207.429px;top:702px;width:61.143px">3.73</div>
<div class="ct" style="left:268.571px;top:702px;width:61.143px">6.8<i>1</i></div>
<div class="ct" style="left:329.714px;top:702px;width:61.143px">4.32</div>
<div class="ct" style="left:390.857px;top:702px;width:61.143px">4.44</div>
<div class="ct" style="left:24px;top:727px;width:61.143px"><i>1</i>.29</div>
<div class="ct" style="left:85.143px;top:727px;width:61.143px"><i>1</i>.72</div>
<div class="ct" style="left:146.286px;top:727px;width:61.143px">3.<i>1</i>3</div>
<div class="ct" style="left:207.429px;top:727px;width:61.143px">4.29</div>
<div class="ct" style="left:268.571px;top:727px;width:61.143px">6.5<i>1</i></div>
<div class="ct" style="left:329.714px;top:727px;width:61.143px">5.97</div>
<div class="ct" style="left:390.857px;top:727px;width:61.143px">8.64</div>
<div class="tk" style="left:458.2px;top:584.029px"></div>
<div class="yl" style="left:466.9px;top:578px">GSE196696</div>
<div class="tk" style="left:458.2px;top:608.886px"></div>
<div class="yl" style="left:466.9px;top:603px">GSE210255</div>
<div class="tk" style="left:458.2px;top:633.743px"></div>
<div class="yl" style="left:466.9px;top:627px">GSE55763</div>
<div class="tk" style="left:458.2px;top:658.6px"></div>
<div class="yl" style="left:466.9px;top:652px">GSE72680</div>
<div class="tk" style="left:458.2px;top:683.457px"></div>
<div class="yl" style="left:466.9px;top:677px">GSE87571</div>
<div class="tk" style="left:458.2px;top:708.314px"></div>
<div class="yl" style="left:466.9px;top:702px">GSE210254</div>
<div class="tk" style="left:458.2px;top:733.171px"></div>
<div class="yl" style="left:466.9px;top:727px">Mean</div>
<div class="gl" style="left:-45.4px;top:673px">GMQN</div>
<div class="c" style="left:24px;top:758.8px;width:61.163px;height:24.877px;background:#5c8ebc"></div>
<div class="c" style="left:85.143px;top:758.8px;width:61.163px;height:24.877px;background:#689ac2"></div>
<div class="c" style="left:146.286px;top:758.8px;width:61.163px;height:24.877px;background:#d9eced"></div>
<div class="c" style="left:207.429px;top:758.8px;width:61.163px;height:24.877px;background:#e8f2de"></div>
<div class="c" style="left:268.571px;top:758.8px;width:61.163px;height:24.877px;background:#faf3b8"></div>
<div class="c" style="left:329.714px;top:758.8px;width:61.163px;height:24.877px;background:#fae39b"></div>
<div class="c" style="left:390.857px;top:758.8px;width:61.163px;height:24.877px;background:#f5c67e"></div>
<div class="ct" style="left:24px;top:765px;width:61.143px"><i>1</i>.45</div>
<div class="ct" style="left:85.143px;top:765px;width:61.143px"><i>1</i>.76</div>
<div class="ct" style="left:146.286px;top:765px;width:61.143px">4.<i>1</i>4</div>
<div class="ct" style="left:207.429px;top:765px;width:61.143px">4.66</div>
<div class="ct" style="left:268.571px;top:765px;width:61.143px">5.52</div>
<div class="ct" style="left:329.714px;top:765px;width:61.143px">6.04</div>
<div class="ct" style="left:390.857px;top:765px;width:61.143px">6.83</div>
<div class="tk" style="left:458.2px;top:770.729px"></div>
<div class="yl" style="left:466.9px;top:764px">Mean</div>
<div class="vt" style="left:54.071px;top:786px"></div>
<div class="xl" style="right:633.429px;top:793.85px;letter-spacing:-0.906px">MAPLE</div>
<div class="vt" style="left:115.214px;top:786px"></div>
<div class="xl" style="right:570.386px;top:789.25px;letter-spacing:0.806px">cAge</div>
<div class="vt" style="left:176.357px;top:786px"></div>
<div class="xl" style="right:509.843px;top:792.85px;letter-spacing:-0.74px">MLP</div>
<div class="vt" style="left:237.5px;top:786px"></div>
<div class="xl" style="right:449.7px;top:790.3px;letter-spacing:0.191px">HannumAge</div>
<div class="vt" style="left:298.643px;top:786px"></div>
<div class="xl" style="right:385.257px;top:790.6px;letter-spacing:0.31px">AltumAge</div>
<div class="vt" style="left:359.786px;top:786px"></div>
<div class="xl" style="right:327.264px;top:790.25px;letter-spacing:-0.005px">PhenoAge</div>
<div class="vt" style="left:420.929px;top:786px"></div>
<div class="xl" style="right:266.721px;top:790.45px;letter-spacing:0.229px">HorvathAge</div>
<div class="br" style="left:556px;top:16.1px;height:37.7px"></div>
<div class="br" style="left:556px;top:66.5px;height:85.4px"></div>
<div class="gt" style="left:565px;top:28.9px;transform-origin:0 0;transform:scaleX(0.945)">EPIC</div>
<div class="gt" style="left:565.6px;top:100.9px;letter-spacing:0.9px">450K</div>
<div class="lt" style="left:624.6px;top:233.5px">MAE</div>
<div class="cb" style="left:621.4px;top:267.5px;width:21px;height:94.1px;background:linear-gradient(to bottom,#a51c1e 0%,#aa2020 1%,#ae2422 2%,#b32924 3%,#b82d26 4%,#bd3129 5%,#c2362b 6%,#c73e2e 7%,#cd4531 8%,#d24c34 9%,#d85437 10%,#dd5b3a 11%,#e3633d 12%,#e56840 13%,#e66d43 14%,#e87346 15%,#e97849 16%,#ea7d4c 17%,#ec824f 18%,#ed8752 19%,#ed8c54 20%,#ee9156 21%,#ef9659 22%,#f09b5b 23%,#f0a05e 24%,#f1a560 25%,#f1a963 26%,#f2ac66 27%,#f2b06a 28%,#f2b36d 29%,#f3b770 30%,#f3ba73 31%,#f3be77 32%,#f4c27b 33%,#f4c67f 34%,#f4ca83 35%,#f5cd87 36%,#f5d18b 37%,#f5d58f 38%,#f6d994 39%,#f6dc98 40%,#f6e09c 41%,#f7e4a1 42%,#f7e7a5 43%,#f7eaaa 44%,#f7ecae 45%,#f7eeb2 46%,#f6f0b7 47%,#f6f2bb 48%,#f6f4c0 49%,#f6f6c4 50%,#f4f5c7 51%,#f2f5ca 52%,#f0f4ce 53%,#eff3d1 54%,#edf3d4 55%,#ebf2d7 56%,#e8f1db 57%,#e5f0df 58%,#e2efe4 59%,#e0eee8 60%,#ddedec 61%,#daecf0 62%,#d6eaef 63%,#d2e8ee 64%,#cfe7ee 65%,#cbe5ed 66%,#c7e3ec 67%,#c3e1eb 68%,#c0dfea 69%,#bcdde9 70%,#b8dce8 71%,#b5dae7 72%,#b1d8e6 73%,#aed6e5 74%,#aad4e4 75%,#a5d0e1 76%,#a0cddf 77%,#9bc9dc 78%,#96c5d9 79%,#91c1d6 80%,#8cbed4 81%,#87b9d1 82%,#82b4cf 83%,#7eb0cc 84%,#79abc9 85%,#75a7c7 86%,#70a2c4 87%,#6c9ec2 88%,#6899bf 89%,#6494bd 90%,#608fba 91%,#5c8ab8 92%,#5785b5 93%,#5480b3 94%,#507bb1 95%,#4c77ae 96%,#4972ac 97%,#456daa 98%,#4269a7 99%,#3e64a5 100%)"></div>
<div class="wt" style="left:621.4px;top:268px;width:4.2px"></div>
<div class="wt" style="left:638.2px;top:268px;width:4.2px"></div>
<div class="wt" style="left:621.4px;top:290.525px;width:4.2px"></div>
<div class="wt" style="left:638.2px;top:290.525px;width:4.2px"></div>
<div class="wt" style="left:621.4px;top:314.05px;width:4.2px"></div>
<div class="wt" style="left:638.2px;top:314.05px;width:4.2px"></div>
<div class="wt" style="left:621.4px;top:337.575px;width:4.2px"></div>
<div class="wt" style="left:638.2px;top:337.575px;width:4.2px"></div>
<div class="ll" style="left:648.3px;top:260.9px">10.0</div>
<div class="ll" style="left:648.3px;top:284.5px">7.5</div>
<div class="ll" style="left:648.3px;top:308.1px">5.0</div>
<div class="ll" style="left:648.3px;top:331.7px">2.5</div>
<div class="ll" style="left:648.3px;top:350.6px">0</div>
<div class="c" style="left:21.3px;top:886.2px;width:61.563px;height:27.27px;background:#f5c57d"></div>
<div class="c" style="left:82.843px;top:886.2px;width:61.563px;height:27.27px;background:#f1a968"></div>
<div class="c" style="left:144.386px;top:886.2px;width:61.563px;height:27.27px;background:#fae39b"></div>
<div class="c" style="left:205.929px;top:886.2px;width:61.563px;height:27.27px;background:#f4f5c6"></div>
<div class="c" style="left:267.471px;top:886.2px;width:61.563px;height:27.27px;background:#a82226"></div>
<div class="c" style="left:329.014px;top:886.2px;width:61.563px;height:27.27px;background:#edf4d3"></div>
<div class="c" style="left:390.557px;top:886.2px;width:61.563px;height:27.27px;background:#a82226"></div>
<div class="c" style="left:21.3px;top:913.45px;width:61.563px;height:27.27px;background:#5989b8"></div>
<div class="c" style="left:82.843px;top:913.45px;width:61.563px;height:27.27px;background:#f9db93"></div>
<div class="c" style="left:144.386px;top:913.45px;width:61.563px;height:27.27px;background:#ebf3d8"></div>
<div class="c" style="left:205.929px;top:913.45px;width:61.563px;height:27.27px;background:#c4e0ea"></div>
<div class="c" style="left:267.471px;top:913.45px;width:61.563px;height:27.27px;background:#a82226"></div>
<div class="c" style="left:329.014px;top:913.45px;width:61.563px;height:27.27px;background:#a82226"></div>
<div class="c" style="left:390.557px;top:913.45px;width:61.563px;height:27.27px;background:#a82226"></div>
<div class="c" style="left:21.3px;top:940.7px;width:61.563px;height:27.27px;background:#4977ad"></div>
<div class="c" style="left:82.843px;top:940.7px;width:61.563px;height:27.27px;background:#76aacc"></div>
<div class="c" style="left:144.386px;top:940.7px;width:61.563px;height:27.27px;background:#8dbdd5"></div>
<div class="c" style="left:205.929px;top:940.7px;width:61.563px;height:27.27px;background:#9bc7db"></div>
<div class="c" style="left:267.471px;top:940.7px;width:61.563px;height:27.27px;background:#a82226"></div>
<div class="c" style="left:329.014px;top:940.7px;width:61.563px;height:27.27px;background:#a82226"></div>
<div class="c" style="left:390.557px;top:940.7px;width:61.563px;height:27.27px;background:#acd2e2"></div>
<div class="c" style="left:21.3px;top:967.95px;width:61.563px;height:27.27px;background:#83b5d1"></div>
<div class="c" style="left:82.843px;top:967.95px;width:61.563px;height:27.27px;background:#cee7ed"></div>
<div class="c" style="left:144.386px;top:967.95px;width:61.563px;height:27.27px;background:#cde6ec"></div>
<div class="c" style="left:205.929px;top:967.95px;width:61.563px;height:27.27px;background:#f7d38b"></div>
<div class="c" style="left:267.471px;top:967.95px;width:61.563px;height:27.27px;background:#a82226"></div>
<div class="c" style="left:329.014px;top:967.95px;width:61.563px;height:27.27px;background:#a82226"></div>
<div class="c" style="left:390.557px;top:967.95px;width:61.563px;height:27.27px;background:#a82226"></div>
<div class="c" style="left:21.3px;top:995.2px;width:61.563px;height:27.27px;background:#446ea8"></div>
<div class="c" style="left:82.843px;top:995.2px;width:61.563px;height:27.27px;background:#d7eced"></div>
<div class="c" style="left:144.386px;top:995.2px;width:61.563px;height:27.27px;background:#ef995e"></div>
<div class="c" style="left:205.929px;top:995.2px;width:61.563px;height:27.27px;background:#fae9a5"></div>
<div class="c" style="left:267.471px;top:995.2px;width:61.563px;height:27.27px;background:#e6f1e1"></div>
<div class="c" style="left:329.014px;top:995.2px;width:61.563px;height:27.27px;background:#e2f0ea"></div>
<div class="c" style="left:390.557px;top:995.2px;width:61.563px;height:27.27px;background:#faf0b3"></div>
<div class="c" style="left:21.3px;top:1022.45px;width:61.563px;height:27.27px;background:#4a78ad"></div>
<div class="c" style="left:82.843px;top:1022.45px;width:61.563px;height:27.27px;background:#e0efeb"></div>
<div class="c" style="left:144.386px;top:1022.45px;width:61.563px;height:27.27px;background:#cde6ec"></div>
<div class="c" style="left:205.929px;top:1022.45px;width:61.563px;height:27.27px;background:#be382e"></div>
<div class="c" style="left:267.471px;top:1022.45px;width:61.563px;height:27.27px;background:#f5c37b"></div>
<div class="c" style="left:329.014px;top:1022.45px;width:61.563px;height:27.27px;background:#a82226"></div>
<div class="c" style="left:390.557px;top:1022.45px;width:61.563px;height:27.27px;background:#a82226"></div>
<div class="c" style="left:21.3px;top:1049.7px;width:61.563px;height:27.27px;background:#8abad4"></div>
<div class="c" style="left:82.843px;top:1049.7px;width:61.563px;height:27.27px;background:#f0a062"></div>
<div class="c" style="left:144.386px;top:1049.7px;width:61.563px;height:27.27px;background:#f1a867"></div>
<div class="c" style="left:205.929px;top:1049.7px;width:61.563px;height:27.27px;background:#f7d28a"></div>
<div class="c" style="left:267.471px;top:1049.7px;width:61.563px;height:27.27px;background:#a82226"></div>
<div class="c" style="left:329.014px;top:1049.7px;width:61.563px;height:27.27px;background:#a82226"></div>
<div class="c" style="left:390.557px;top:1049.7px;width:61.563px;height:27.27px;background:#a82226"></div>
<div class="c" style="left:21.3px;top:1076.95px;width:61.563px;height:27.27px;background:#7fb2d0"></div>
<div class="c" style="left:82.843px;top:1076.95px;width:61.563px;height:27.27px;background:#f3f4c7"></div>
<div class="c" style="left:144.386px;top:1076.95px;width:61.563px;height:27.27px;background:#f5f5c4"></div>
<div class="c" style="left:205.929px;top:1076.95px;width:61.563px;height:27.27px;background:#faecab"></div>
<div class="c" style="left:267.471px;top:1076.95px;width:61.563px;height:27.27px;background:#a82226"></div>
<div class="c" style="left:329.014px;top:1076.95px;width:61.563px;height:27.27px;background:#a82226"></div>
<div class="c" style="left:390.557px;top:1076.95px;width:61.563px;height:27.27px;background:#a82226"></div>
<div class="ct" style="left:21.3px;top:893px;width:61.543px">6.88</div>
<div class="ct" style="left:82.843px;top:893px;width:61.543px">7.52</div>
<div class="ct" style="left:144.386px;top:893px;width:61.543px">6.03</div>
<div class="ct" style="left:205.929px;top:893px;width:61.543px">5.<i>1</i>6</div>
<div class="ct" style="left:267.471px;top:893px;width:61.543px"><i>1</i>0.4<i>1</i></div>
<div class="ct" style="left:329.014px;top:893px;width:61.543px">4.87</div>
<div class="ct" style="left:390.557px;top:893px;width:61.543px">34.44</div>
<div class="ct" style="left:21.3px;top:920px;width:61.543px"><i>1</i>.38</div>
<div class="ct" style="left:82.843px;top:920px;width:61.543px">6.25</div>
<div class="ct" style="left:144.386px;top:920px;width:61.543px">4.78</div>
<div class="ct" style="left:205.929px;top:920px;width:61.543px">3.7</div>
<div class="ct" style="left:267.471px;top:920px;width:61.543px"><i>1</i><i>1</i>.77</div>
<div class="ct" style="left:329.014px;top:920px;width:61.543px">22.76</div>
<div class="ct" style="left:390.557px;top:920px;width:61.543px">67.55</div>
<div class="ct" style="left:21.3px;top:948px;width:61.543px"><i>1</i>.03</div>
<div class="ct" style="left:82.843px;top:948px;width:61.543px">2.<i>1</i><i>1</i></div>
<div class="ct" style="left:144.386px;top:948px;width:61.543px">2.6<i>1</i></div>
<div class="ct" style="left:205.929px;top:948px;width:61.543px">2.9</div>
<div class="ct" style="left:267.471px;top:948px;width:61.543px">23.78</div>
<div class="ct" style="left:329.014px;top:948px;width:61.543px">40.07</div>
<div class="ct" style="left:390.557px;top:948px;width:61.543px">3.23</div>
<div class="ct" style="left:21.3px;top:975px;width:61.543px">2.39</div>
<div class="ct" style="left:82.843px;top:975px;width:61.543px">3.89</div>
<div class="ct" style="left:144.386px;top:975px;width:61.543px">3.87</div>
<div class="ct" style="left:205.929px;top:975px;width:61.543px">6.49</div>
<div class="ct" style="left:267.471px;top:975px;width:61.543px"><i>1</i>0.49</div>
<div class="ct" style="left:329.014px;top:975px;width:61.543px">22.68</div>
<div class="ct" style="left:390.557px;top:975px;width:61.543px">49.75</div>
<div class="ct" style="left:21.3px;top:1002px;width:61.543px">0.8<i>1</i></div>
<div class="ct" style="left:82.843px;top:1002px;width:61.543px">4.<i>1</i></div>
<div class="ct" style="left:144.386px;top:1002px;width:61.543px">7.86</div>
<div class="ct" style="left:205.929px;top:1002px;width:61.543px">5.85</div>
<div class="ct" style="left:267.471px;top:1002px;width:61.543px">4.58</div>
<div class="ct" style="left:329.014px;top:1002px;width:61.543px">4.4<i>1</i></div>
<div class="ct" style="left:390.557px;top:1002px;width:61.543px">5.6<i>1</i></div>
<div class="ct" style="left:21.3px;top:1029px;width:61.543px"><i>1</i>.05</div>
<div class="ct" style="left:82.843px;top:1029px;width:61.543px">4.33</div>
<div class="ct" style="left:144.386px;top:1029px;width:61.543px">3.86</div>
<div class="ct" style="left:205.929px;top:1029px;width:61.543px">9.63</div>
<div class="ct" style="left:267.471px;top:1029px;width:61.543px">6.93</div>
<div class="ct" style="left:329.014px;top:1029px;width:61.543px"><i>1</i>3.07</div>
<div class="ct" style="left:390.557px;top:1029px;width:61.543px">29.7<i>1</i></div>
<div class="ct" style="left:21.3px;top:1057px;width:61.543px">2.53</div>
<div class="ct" style="left:82.843px;top:1057px;width:61.543px">7.7<i>1</i></div>
<div class="ct" style="left:144.386px;top:1057px;width:61.543px">7.54</div>
<div class="ct" style="left:205.929px;top:1057px;width:61.543px">6.5</div>
<div class="ct" style="left:267.471px;top:1057px;width:61.543px"><i>1</i>7.7</div>
<div class="ct" style="left:329.014px;top:1057px;width:61.543px"><i>1</i><i>1</i>.<i>1</i>7</div>
<div class="ct" style="left:390.557px;top:1057px;width:61.543px">25.42</div>
<div class="ct" style="left:21.3px;top:1084px;width:61.543px">2.3</div>
<div class="ct" style="left:82.843px;top:1084px;width:61.543px">5.<i>1</i>3</div>
<div class="ct" style="left:144.386px;top:1084px;width:61.543px">5.22</div>
<div class="ct" style="left:205.929px;top:1084px;width:61.543px">5.75</div>
<div class="ct" style="left:267.471px;top:1084px;width:61.543px"><i>1</i>2.24</div>
<div class="ct" style="left:329.014px;top:1084px;width:61.543px"><i>1</i>7</div>
<div class="ct" style="left:390.557px;top:1084px;width:61.543px">30.82</div>
<div class="tk" style="left:458.2px;top:899.325px"></div>
<div class="yl yb" style="left:468.4px;top:893px">Adipose</div>
<div class="tk" style="left:458.2px;top:926.575px"></div>
<div class="yl yb" style="left:468.4px;top:920px">Brain</div>
<div class="tk" style="left:458.2px;top:953.825px"></div>
<div class="yl yb" style="left:468.4px;top:948px">Buccal epithelium</div>
<div class="tk" style="left:458.2px;top:981.075px"></div>
<div class="yl yb" style="left:468.4px;top:975px">Muscle</div>
<div class="tk" style="left:458.2px;top:1008.325px"></div>
<div class="yl yb" style="left:468.4px;top:1002px">Saliva</div>
<div class="tk" style="left:458.2px;top:1035.575px"></div>
<div class="yl yb" style="left:468.4px;top:1029px">Skin</div>
<div class="tk" style="left:458.2px;top:1062.825px"></div>
<div class="yl yb" style="left:468.4px;top:1057px">Liver</div>
<div class="tk" style="left:458.2px;top:1090.075px"></div>
<div class="yl yb" style="left:468.4px;top:1084px">Mean</div>
<div class="vt" style="left:51.571px;top:1107px"></div>
<div class="xl" style="right:632.179px;top:1116.05px;letter-spacing:-0.787px">MAPLE</div>
<div class="vt" style="left:113.114px;top:1107px"></div>
<div class="xl" style="right:571.186px;top:1114.25px;letter-spacing:-0.807px">MLP</div>
<div class="vt" style="left:174.657px;top:1107px"></div>
<div class="xl" style="right:510.893px;top:1111.95px;letter-spacing:0.366px">AltumAge</div>
<div class="vt" style="left:236.2px;top:1107px"></div>
<div class="xl" style="right:450.55px;top:1112.45px;letter-spacing:0.119px">HorvathAge</div>
<div class="vt" style="left:297.743px;top:1107px"></div>
<div class="xl" style="right:386.207px;top:1110.85px;letter-spacing:0.926px">cAge</div>
<div class="vt" style="left:359.286px;top:1107px"></div>
<div class="xl" style="right:326.514px;top:1110.3px;letter-spacing:0.422px">HannumAge</div>
<div class="vt" style="left:420.829px;top:1107px"></div>
<div class="xl" style="right:264.321px;top:1110.8px;letter-spacing:0.219px">PhenoAge</div>
<div class="lt" style="left:629.7px;top:914.2px">MAE</div>
<div class="cb" style="left:626.2px;top:948.5px;width:19.6px;height:94.1px;background:linear-gradient(to bottom,#a51c1e 0%,#aa2020 1%,#ae2422 2%,#b32924 3%,#b82d26 4%,#bd3129 5%,#c2362b 6%,#c73e2e 7%,#cd4531 8%,#d24c34 9%,#d85437 10%,#dd5b3a 11%,#e3633d 12%,#e56840 13%,#e66d43 14%,#e87346 15%,#e97849 16%,#ea7d4c 17%,#ec824f 18%,#ed8752 19%,#ed8c54 20%,#ee9156 21%,#ef9659 22%,#f09b5b 23%,#f0a05e 24%,#f1a560 25%,#f1a963 26%,#f2ac66 27%,#f2b06a 28%,#f2b36d 29%,#f3b770 30%,#f3ba73 31%,#f3be77 32%,#f4c27b 33%,#f4c67f 34%,#f4ca83 35%,#f5cd87 36%,#f5d18b 37%,#f5d58f 38%,#f6d994 39%,#f6dc98 40%,#f6e09c 41%,#f7e4a1 42%,#f7e7a5 43%,#f7eaaa 44%,#f7ecae 45%,#f7eeb2 46%,#f6f0b7 47%,#f6f2bb 48%,#f6f4c0 49%,#f6f6c4 50%,#f4f5c7 51%,#f2f5ca 52%,#f0f4ce 53%,#eff3d1 54%,#edf3d4 55%,#ebf2d7 56%,#e8f1db 57%,#e5f0df 58%,#e2efe4 59%,#e0eee8 60%,#ddedec 61%,#daecf0 62%,#d6eaef 63%,#d2e8ee 64%,#cfe7ee 65%,#cbe5ed 66%,#c7e3ec 67%,#c3e1eb 68%,#c0dfea 69%,#bcdde9 70%,#b8dce8 71%,#b5dae7 72%,#b1d8e6 73%,#aed6e5 74%,#aad4e4 75%,#a5d0e1 76%,#a0cddf 77%,#9bc9dc 78%,#96c5d9 79%,#91c1d6 80%,#8cbed4 81%,#87b9d1 82%,#82b4cf 83%,#7eb0cc 84%,#79abc9 85%,#75a7c7 86%,#70a2c4 87%,#6c9ec2 88%,#6899bf 89%,#6494bd 90%,#608fba 91%,#5c8ab8 92%,#5785b5 93%,#5480b3 94%,#507bb1 95%,#4c77ae 96%,#4972ac 97%,#456daa 98%,#4269a7 99%,#3e64a5 100%)"></div>
<div class="wt" style="left:626.2px;top:949px;width:3.92px"></div>
<div class="wt" style="left:641.88px;top:949px;width:3.92px"></div>
<div class="wt" style="left:626.2px;top:971.525px;width:3.92px"></div>
<div class="wt" style="left:641.88px;top:971.525px;width:3.92px"></div>
<div class="wt" style="left:626.2px;top:995.05px;width:3.92px"></div>
<div class="wt" style="left:641.88px;top:995.05px;width:3.92px"></div>
<div class="wt" style="left:626.2px;top:1018.575px;width:3.92px"></div>
<div class="wt" style="left:641.88px;top:1018.575px;width:3.92px"></div>
<div class="ll" style="left:651.8px;top:940.7px">10.0</div>
<div class="ll" style="left:651.8px;top:964.2px">7.5</div>
<div class="ll" style="left:651.8px;top:988.2px">5.0</div>
<div class="ll" style="left:651.8px;top:1012.4px">2.5</div>
<div class="ll" style="left:651.8px;top:1034.3px">0</div>
</div>
</body></html>
